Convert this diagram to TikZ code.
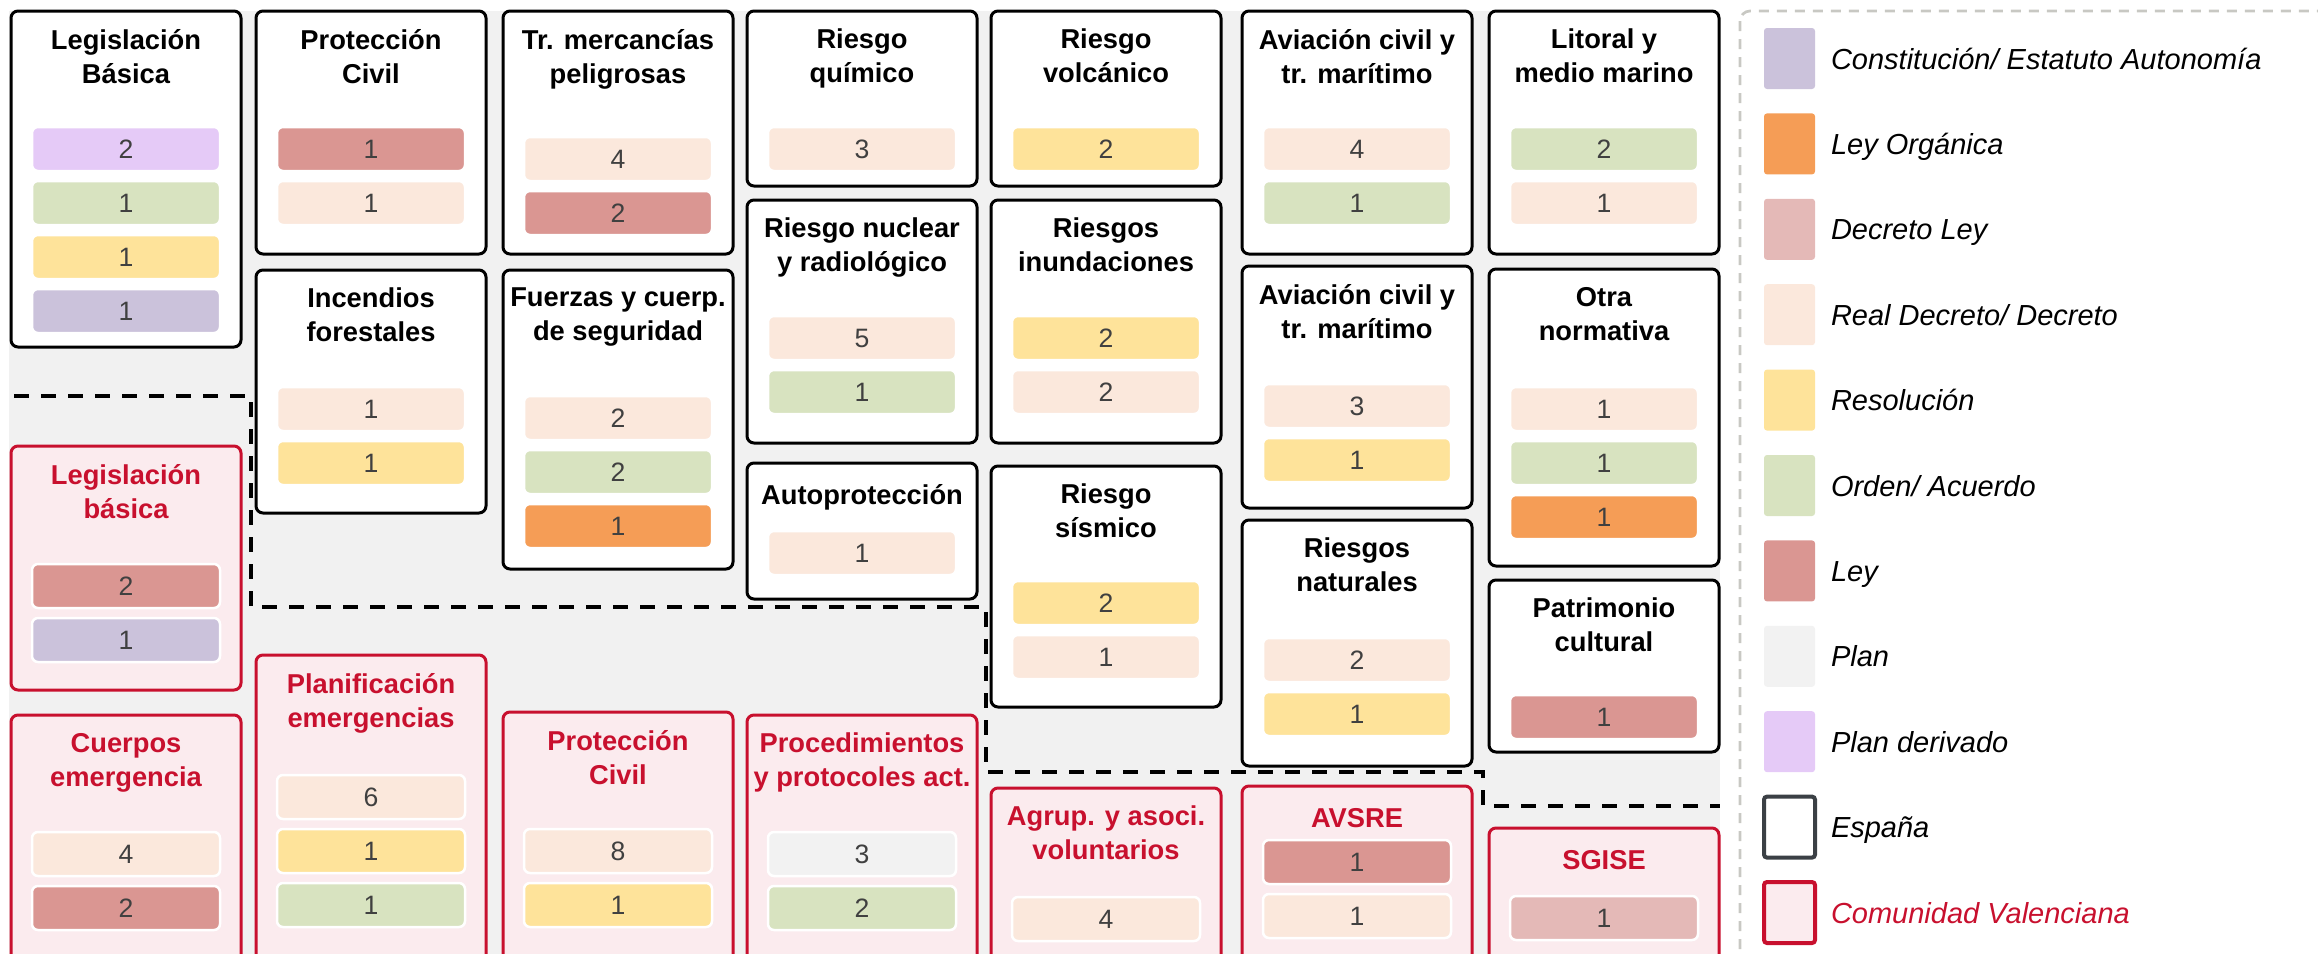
\documentclass[tikz,border=0pt]{standalone}
\usepackage{fontspec}
\setmainfont{Liberation Sans}
\usepackage{tikz}
\usetikzlibrary{
	positioning
}
\definecolor{cCE}{HTML}{CBC2DB}
\definecolor{cLO}{HTML}{F59D56}
\definecolor{cDL}{HTML}{E4B9B7}
\definecolor{cRD}{HTML}{FBE8DC}
\definecolor{cRS}{HTML}{FEE39A}
\definecolor{cOR}{HTML}{D8E3C0}
\definecolor{cLY}{HTML}{DA9692}
\definecolor{cPL}{HTML}{F2F2F2}
\definecolor{cPD}{HTML}{E5CAF7}
\definecolor{bggray}{HTML}{F1F1F1}
\definecolor{cvred}{HTML}{C8102E}
\definecolor{cvpink}{HTML}{FBEBEE}
\definecolor{numgray}{HTML}{404040}
\definecolor{leggray}{HTML}{C8C8C3}
\definecolor{esdark}{HTML}{3B4045}
\tikzset{
	esbox/.style={
		draw=black, line width=3pt, fill=white, rounded corners=7pt,
		anchor=north west, minimum width=230pt, inner sep=0pt, outer sep=0pt
	},
	cvbox/.style={
		esbox, draw=cvred, fill=cvpink
	},
	estitle/.style={
		font=\fontsize{27.3}{34}\selectfont\bfseries, align=center,
		inner sep=0pt, outer sep=0pt, execute at begin node=\strut
	},
	cvtitle/.style={
		estitle, text=cvred
	},
	chip/.style={
		draw=white, line width=2.5pt, rounded corners=6pt,
		minimum width=188pt, minimum height=44pt, inner sep=0pt, outer sep=0pt,
		font=\fontsize{26.6}{30}\selectfont, text=numgray,
		text height=19pt, text depth=0pt
	},
	swatch/.style={
		rounded corners=3pt, anchor=north west, minimum width=51pt,
		minimum height=61pt, inner sep=0pt, outer sep=0pt
	},
	legtext/.style={
		font=\fontsize{29}{34}\selectfont\itshape, inner sep=0pt, outer sep=0pt,
		text height=21pt, text depth=0pt
	},
	legframe/.style={
		draw=leggray, line width=2.7pt, dash pattern=on 10pt off 8pt,
		rounded corners=10pt
	},
	zone/.style={
		draw=black, line width=4pt, dash pattern=on 15pt off 12pt
	}
}
\begin{document}
\begin{tikzpicture}[x=1pt,y=-1pt]
	\useasboundingbox (0,0) rectangle (2318,953);
	\clip (0,0) rectangle (2318,953);
	\fill[bggray] (9,11) rectangle (1720,965);
	\draw[legframe] (1740,11) rectangle (2345,962);

	\node[esbox, minimum height=336pt] (legE) at (11,11) {};
	\node[estitle, below=18pt of legE.north] (legEt) {Legislación\\Básica};
	\node[chip, fill=cPD, below=116pt of legE.north] (legE1) {2};
	\node[chip, fill=cOR, below=10pt of legE1] (legE2) {1};
	\node[chip, fill=cRS, below=10pt of legE2] (legE3) {1};
	\node[chip, fill=cCE, below=10pt of legE3] (legE4) {1};

	\node[esbox, minimum height=243pt] (pcE) at (256,11) {};
	\node[estitle, below=18pt of pcE.north] (pcEt) {Protección\\Civil};
	\node[chip, fill=cLY, below=116pt of pcE.north] (pcE1) {1};
	\node[chip, fill=cRD, below=10pt of pcE1] (pcE2) {1};

	\node[esbox, minimum height=243pt] (merE) at (503,11) {};
	\node[estitle, below=18pt of merE.north] (merEt) {Tr. mercancías\\peligrosas};
	\node[chip, fill=cRD, below=126pt of merE.north] (merE1) {4};
	\node[chip, fill=cLY, below=10pt of merE1] (merE2) {2};

	\node[esbox, minimum height=175pt] (quiE) at (747,11) {};
	\node[estitle, below=18pt of quiE.north] (quiEt) {Riesgo\\químico};
	\node[chip, fill=cRD, below=116pt of quiE.north] (quiE1) {3};

	\node[esbox, minimum height=175pt] (volE) at (991,11) {};
	\node[estitle, below=18pt of volE.north] (volEt) {Riesgo\\volcánico};
	\node[chip, fill=cRS, below=116pt of volE.north] (volE1) {2};

	\node[esbox, minimum height=243pt] (aviE) at (1242,11) {};
	\node[estitle, below=18pt of aviE.north] (aviEt) {Aviación civil y\\tr. marítimo};
	\node[chip, fill=cRD, below=116pt of aviE.north] (aviE1) {4};
	\node[chip, fill=cOR, below=10pt of aviE1] (aviE2) {1};

	\node[esbox, minimum height=243pt] (litE) at (1489,11) {};
	\node[estitle, below=18pt of litE.north] (litEt) {Litoral y\\medio marino};
	\node[chip, fill=cOR, below=116pt of litE.north] (litE1) {2};
	\node[chip, fill=cRD, below=10pt of litE1] (litE2) {1};

	\node[esbox, minimum height=243pt] (incE) at (256,270) {};
	\node[estitle, below=18pt of incE.north] (incEt) {Incendios\\forestales};
	\node[chip, fill=cRD, below=117pt of incE.north] (incE1) {1};
	\node[chip, fill=cRS, below=10pt of incE1] (incE2) {1};

	\node[esbox, minimum height=299pt] (fueE) at (503,270) {};
	\node[estitle, below=18pt of fueE.north] (fueEt) {Fuerzas y cuerp.\\de seguridad};
	\node[chip, fill=cRD, below=126pt of fueE.north] (fueE1) {2};
	\node[chip, fill=cOR, below=10pt of fueE1] (fueE2) {2};
	\node[chip, fill=cLO, below=10pt of fueE2] (fueE3) {1};

	\node[esbox, minimum height=243pt] (nucE) at (747,200) {};
	\node[estitle, below=18pt of nucE.north] (nucEt) {Riesgo nuclear\\y radiológico};
	\node[chip, fill=cRD, below=116pt of nucE.north] (nucE1) {5};
	\node[chip, fill=cOR, below=10pt of nucE1] (nucE2) {1};

	\node[esbox, minimum height=243pt] (inuE) at (991,200) {};
	\node[estitle, below=18pt of inuE.north] (inuEt) {Riesgos\\inundaciones};
	\node[chip, fill=cRS, below=116pt of inuE.north] (inuE1) {2};
	\node[chip, fill=cRD, below=10pt of inuE1] (inuE2) {2};

	\node[esbox, minimum height=242pt] (avmE) at (1242,266) {};
	\node[estitle, below=18pt of avmE.north] (avmEt) {Aviación civil y\\tr. marítimo};
	\node[chip, fill=cRD, below=118pt of avmE.north] (avmE1) {3};
	\node[chip, fill=cRS, below=10pt of avmE1] (avmE2) {1};

	\node[esbox, minimum height=297pt] (otrE) at (1489,269) {};
	\node[estitle, below=18pt of otrE.north] (otrEt) {Otra\\normativa};
	\node[chip, fill=cRD, below=118pt of otrE.north] (otrE1) {1};
	\node[chip, fill=cOR, below=10pt of otrE1] (otrE2) {1};
	\node[chip, fill=cLO, below=10pt of otrE2] (otrE3) {1};

	\node[esbox, minimum height=136pt] (autE) at (747,463) {};
	\node[estitle, below=18pt of autE.north] (autEt) {Autoprotección};
	\node[chip, fill=cRD, below=68pt of autE.north] (autE1) {1};

	\node[esbox, minimum height=241pt] (sisE) at (991,466) {};
	\node[estitle, below=18pt of sisE.north] (sisEt) {Riesgo\\sísmico};
	\node[chip, fill=cRS, below=115pt of sisE.north] (sisE1) {2};
	\node[chip, fill=cRD, below=10pt of sisE1] (sisE2) {1};

	\node[esbox, minimum height=246pt] (natE) at (1242,520) {};
	\node[estitle, below=18pt of natE.north] (natEt) {Riesgos\\naturales};
	\node[chip, fill=cRD, below=118pt of natE.north] (natE1) {2};
	\node[chip, fill=cRS, below=10pt of natE1] (natE2) {1};

	\node[esbox, minimum height=172pt] (patE) at (1489,580) {};
	\node[estitle, below=18pt of patE.north] (patEt) {Patrimonio\\cultural};
	\node[chip, fill=cLY, below=115pt of patE.north] (patE1) {1};

	\node[cvbox, minimum height=244pt] (legV) at (11,446) {};
	\node[cvtitle, below=18pt of legV.north] (legVt) {Legislación\\básica};
	\node[chip, fill=cLY, below=118pt of legV.north] (legV1) {2};
	\node[chip, fill=cCE, below=10pt of legV1] (legV2) {1};

	\node[cvbox, minimum height=260pt] (cueV) at (11,715) {};
	\node[cvtitle, below=18pt of cueV.north] (cueVt) {Cuerpos\\emergencia};
	\node[chip, fill=cRD, below=117pt of cueV.north] (cueV1) {4};
	\node[chip, fill=cLY, below=10pt of cueV1] (cueV2) {2};

	\node[cvbox, minimum height=320pt] (plaV) at (256,655) {};
	\node[cvtitle, below=18pt of plaV.north] (plaVt) {Planificación\\emergencias};
	\node[chip, fill=cRD, below=120pt of plaV.north] (plaV1) {6};
	\node[chip, fill=cRS, below=10pt of plaV1] (plaV2) {1};
	\node[chip, fill=cOR, below=10pt of plaV2] (plaV3) {1};

	\node[cvbox, minimum height=263pt] (pcV) at (503,712) {};
	\node[cvtitle, below=18pt of pcV.north] (pcVt) {Protección\\Civil};
	\node[chip, fill=cRD, below=117pt of pcV.north] (pcV1) {8};
	\node[chip, fill=cRS, below=10pt of pcV1] (pcV2) {1};

	\node[cvbox, minimum height=260pt] (proV) at (747,715) {};
	\node[cvtitle, below=18pt of proV.north] (proVt) {Procedimientos\\y protocoles act.};
	\node[chip, fill=cPL, below=117pt of proV.north] (proV1) {3};
	\node[chip, fill=cOR, below=10pt of proV1] (proV2) {2};

	\node[cvbox, minimum height=187pt] (agrV) at (991,788) {};
	\node[cvtitle, below=18pt of agrV.north] (agrVt) {Agrup. y asoci.\\voluntarios};
	\node[chip, fill=cRD, below=109pt of agrV.north] (agrV1) {4};

	\node[cvbox, minimum height=189pt] (avsV) at (1242,786) {};
	\node[cvtitle, below=18pt of avsV.north] (avsVt) {AVSRE};
	\node[chip, fill=cLY, below=54pt of avsV.north] (avsV1) {1};
	\node[chip, fill=cRD, below=10pt of avsV1] (avsV2) {1};

	\node[cvbox, minimum height=147pt] (sgiV) at (1489,828) {};
	\node[cvtitle, below=18pt of sgiV.north] (sgiVt) {SGISE};
	\node[chip, fill=cDL, below=68pt of sgiV.north] (sgiV1) {1};

	\draw[zone] (14,396) -| (251,607) -| (986,772) -| (1483,806) -- (1720,806);

	\node[swatch, fill=cCE] (sw1) at (1764,28) {};
	\node[legtext, right=16pt of sw1] (lg1) {Constitución/ Estatuto Autonomía};
	\node[swatch, fill=cLO, below=24.4pt of sw1] (sw2) {};
	\node[legtext, right=16pt of sw2] (lg2) {Ley Orgánica};
	\node[swatch, fill=cDL, below=24.4pt of sw2] (sw3) {};
	\node[legtext, right=16pt of sw3] (lg3) {Decreto Ley};
	\node[swatch, fill=cRD, below=24.4pt of sw3] (sw4) {};
	\node[legtext, right=16pt of sw4] (lg4) {Real Decreto/ Decreto};
	\node[swatch, fill=cRS, below=24.4pt of sw4] (sw5) {};
	\node[legtext, right=16pt of sw5] (lg5) {Resolución};
	\node[swatch, fill=cOR, below=24.4pt of sw5] (sw6) {};
	\node[legtext, right=16pt of sw6] (lg6) {Orden/ Acuerdo};
	\node[swatch, fill=cLY, below=24.4pt of sw6] (sw7) {};
	\node[legtext, right=16pt of sw7] (lg7) {Ley};
	\node[swatch, fill=cPL, below=24.4pt of sw7] (sw8) {};
	\node[legtext, right=16pt of sw8] (lg8) {Plan};
	\node[swatch, fill=cPD, below=24.4pt of sw8] (sw9) {};
	\node[legtext, right=16pt of sw9] (lg9) {Plan derivado};
	\node[swatch, draw=esdark, line width=4pt, fill=white, below=24.4pt of sw9] (sw10) {};
	\node[legtext, right=16pt of sw10] (lg10) {España};
	\node[swatch, draw=cvred, line width=4pt, fill=cvpink, below=24.4pt of sw10] (sw11) {};
	\node[legtext, text=cvred, right=16pt of sw11] (lg11) {Comunidad Valenciana};
\end{tikzpicture}
\end{document}
